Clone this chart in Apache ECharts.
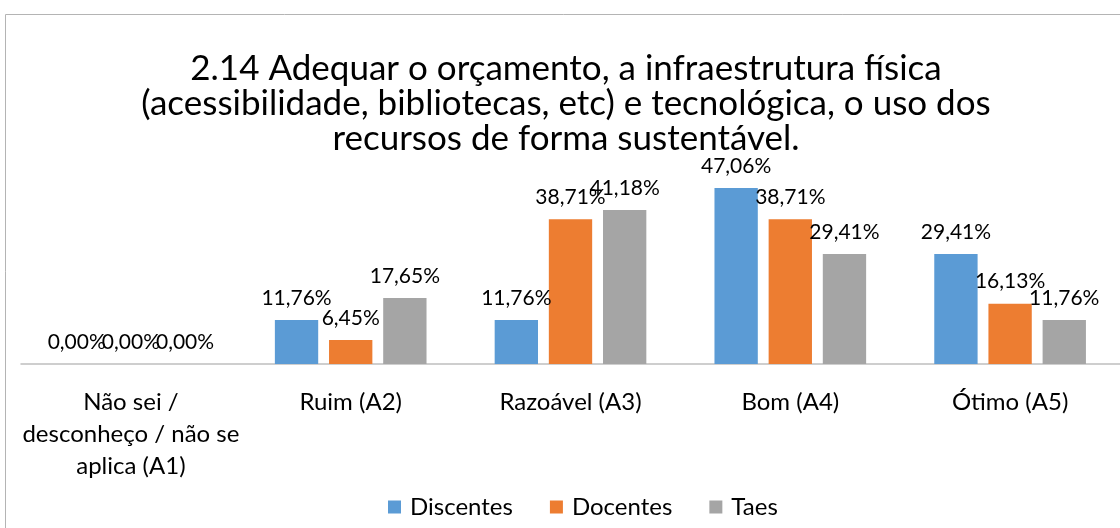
<!DOCTYPE html>
<html>
<head>
<meta charset="utf-8">
<script src="https://cdn.jsdelivr.net/npm/echarts@6/dist/echarts.min.js"></script>
<style>
  html, body { margin: 0; padding: 0; background: #fff; }
  #chart { width: 1120px; height: 528px; }
</style>
</head>
<body>
<div id="chart"></div>
<script>
// categorias e valores (%)
var categorias = ['Não sei / desconheço / não se aplica (A1)', 'Ruim (A2)', 'Razoável (A3)', 'Bom (A4)', 'Ótimo (A5)'];
var discentes = [0, 11.76, 11.76, 47.06, 29.41];
var docentes = [0, 6.45, 38.71, 38.71, 16.13];
var taes = [0, 17.65, 41.18, 29.41, 11.76];
var titulo = '2.14 Adequar o orçamento, a infraestrutura física\n(acessibilidade, bibliotecas, etc) e tecnológica, o uso dos\nrecursos de forma sustentável.';

var fonte = 'Lato';
var chart = echarts.init(document.getElementById('chart'));

function rotulo(v) {
  return v.value.toFixed(2).replace('.', ',') + '%';
}
var label = {
  show: true,
  position: 'top',
  distance: 9,
  formatter: rotulo,
  color: '#000',
  fontFamily: fonte,
  fontSize: 21,
  lineHeight: 26
};

function serie(nome, dados, cor) {
  return {
    name: nome,
    type: 'bar',
    data: dados,
    itemStyle: { color: cor },
    barGap: '25%',
    barCategoryGap: '31%',
    label: label
  };
}

var option = {
  animation: false,
  title: {
    text: titulo,
    left: 561,
    textAlign: 'center',
    top: 46,
    textStyle: {
      fontFamily: fonte,
      fontSize: 35,
      fontWeight: 'normal',
      color: '#000',
      lineHeight: 35
    }
  },
  graphic: [{
    type: 'rect',
    shape: { x: 5.5, y: 14.5, width: 1300, height: 700 },
    style: { fill: 'none', stroke: '#b4b4b4', lineWidth: 1 },
    silent: true
  }],
  legend: {
    data: ['Discentes', 'Docentes', 'Taes'],
    left: 383,
    top: 490,
    itemWidth: 13,
    itemHeight: 13,
    itemGap: 37,
    icon: 'rect',
    textStyle: { fontFamily: fonte, fontSize: 24, color: '#000', padding: [0, 0, 0, 4] }
  },
  grid: { left: 21, right: -12, top: 177, bottom: 164 },
  xAxis: {
    type: 'category',
    data: categorias,
    axisLine: { lineStyle: { color: '#bfbfbf', width: 1.5 } },
    axisTick: { show: false },
    axisLabel: {
      interval: 0,
      margin: 22,
      fontFamily: fonte,
      fontSize: 24,
      lineHeight: 32,
      color: '#000',
      formatter: function (v) {
        if (v === categorias[0]) return 'Não sei /\ndesconheço / não se\naplica (A1)';
        return v;
      }
    }
  },
  yAxis: {
    type: 'value',
    min: 0,
    max: 50,
    show: false,
    splitLine: { show: false }
  },
  series: [
    serie('Discentes', discentes, '#5b9bd5'),
    serie('Docentes', docentes, '#ed7d31'),
    serie('Taes', taes, '#a5a5a5')
  ]
};
chart.setOption(option);
window.onresize = function () { chart.resize(); };
</script>
</body>
</html>
